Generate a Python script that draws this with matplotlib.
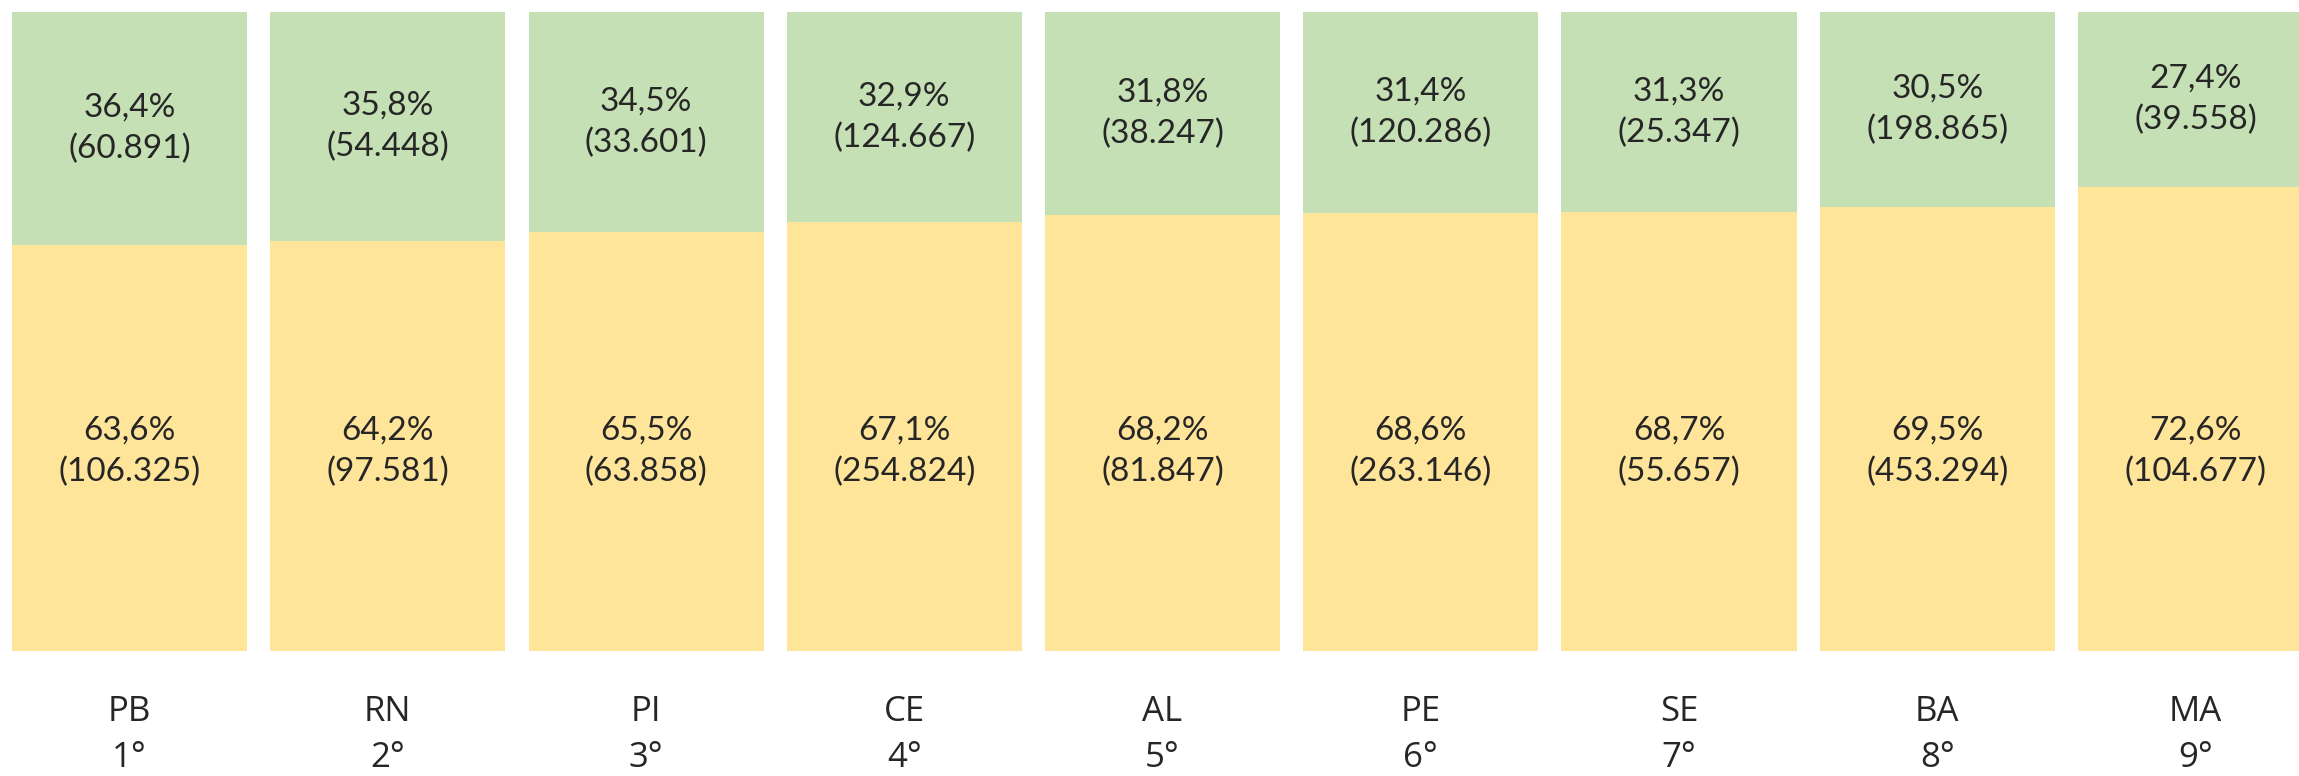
import matplotlib
matplotlib.use("Agg")
import matplotlib.pyplot as plt

# data
states = ["PB", "RN", "PI", "CE", "AL", "PE", "SE", "BA", "MA"]
ranks = ["1°", "2°", "3°", "4°", "5°", "6°", "7°", "8°", "9°"]
green_pct = [36.4, 35.8, 34.5, 32.9, 31.8, 31.4, 31.3, 30.5, 27.4]
green_n = [60891, 54448, 33601, 124667, 38247, 120286, 25347, 198865, 39558]
yellow_pct = [63.6, 64.2, 65.5, 67.1, 68.2, 68.6, 68.7, 69.5, 72.6]
yellow_n = [106325, 97581, 63858, 254824, 81847, 263146, 55657, 453294, 104677]

GREEN = "#C5E0B4"
YELLOW = "#FFE599"
TXT = "#262626"


def fmt_pct(v):
    return f"{v:.1f}".replace(".", ",") + "%"


def fmt_n(n):
    return "(" + f"{n:,}".replace(",", ".") + ")"


fig = plt.figure(figsize=(22.99, 7.76), dpi=100)
ax = fig.add_axes([0, 0, 1, 1])

x = list(range(len(states)))
ax.bar(x, yellow_pct, width=0.91, color=YELLOW, linewidth=0)
ax.bar(x, green_pct, bottom=yellow_pct, width=0.91, color=GREEN, linewidth=0)

for i in x:
    # green segment label, centred in the segment
    ax.text(i, yellow_pct[i] + green_pct[i] / 2,
            fmt_pct(green_pct[i]) + "\n" + fmt_n(green_n[i]),
            ha="center", va="center", fontsize=24, color=TXT,
            family="Lato", linespacing=1.47)
    # yellow segment label sits at a fixed height
    ax.text(i, 31.2, fmt_pct(yellow_pct[i]) + "\n" + fmt_n(yellow_n[i]),
            ha="center", va="center", fontsize=24, color=TXT,
            family="Lato", linespacing=1.47)
    ax.text(i, -9.55, states[i], ha="center", va="center",
            fontsize=25, color=TXT, family="Open Sans")
    ax.text(i, -16.7, ranks[i], ha="center", va="center",
            fontsize=25, color=TXT, family="Open Sans")

ax.set_xlim(-0.5015, 8.4008)
ax.set_ylim(-19.56, 101.88)
ax.axis("off")

fig.savefig("out.png", dpi=100)
